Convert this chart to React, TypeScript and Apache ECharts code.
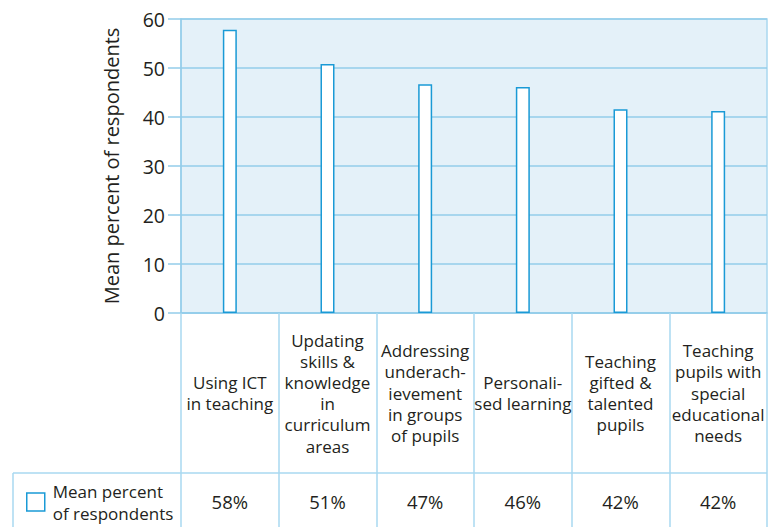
import React, { useEffect, useRef } from "react";
import * as echarts from "echarts";

const categories = [
  "Using ICT\nin teaching",
  "Updating\nskills &\nknowledge\nin\ncurriculum\nareas",
  "Addressing\nunderach-\nievement\nin groups\nof pupils",
  "Personali-\nsed learning",
  "Teaching\ngifted &\ntalented\npupils",
  "Teaching\npupils with\nspecial\neducational\nneeds",
];
const values = [57.8, 50.8, 46.7, 46.1, 41.6, 41.2];
const percentLabels = ["58%", "51%", "47%", "46%", "42%", "42%"];
const seriesName = "Mean percent of respondents";
const yTicks = { min: 0, max: 60, interval: 10 };

const FONT = "'Open Sans', 'Noto Sans', sans-serif";
const TEXT = "#231f20";
const GRIDLINE = "#93cdea";
const TABLE = "#a9d8f0";
const BG = "#e4f1f9";
const BAR = "#1a9ad6";

export default function App() {
  const ref = useRef<HTMLDivElement>(null);
  useEffect(() => {
    if (!ref.current) return;
    const chart = echarts.init(ref.current, undefined, { renderer: "svg" });
    const W = 776, H = 527;
    const gl = 181, gr = 9, gt = 19, gb = 214;
    const rowY = 473;
    chart.setOption({
      animation: false,
      textStyle: { fontFamily: FONT, color: TEXT },
      grid: {
        left: gl, right: gr, top: gt, bottom: gb,
        show: true, backgroundColor: BG, borderWidth: 1.5, borderColor: TABLE,
      },
      legend: {
        left: 26, top: 480,
        padding: 0,
        itemWidth: 18, itemHeight: 18,
        itemGap: 0,
        icon: "rect",
        data: [{ name: seriesName }],
        itemStyle: { color: "#fff", borderColor: BAR, borderWidth: 1.5 },
        formatter: () => "Mean percent\nof respondents",
        textStyle: { fontFamily: FONT, fontSize: 17, color: TEXT, lineHeight: 22, padding: [0, 0, 0, 3] },
      },
      xAxis: [
        {
          type: "category",
          data: categories,
          boundaryGap: true,
          axisLine: { show: true, lineStyle: { color: GRIDLINE, width: 1.5 } },
          axisTick: { show: true, length: gb, lineStyle: { color: TABLE, width: 1.5 } },
          axisLabel: {
            interval: 0, margin: 80, verticalAlign: "middle", align: "center",
            fontFamily: FONT, fontSize: 17, lineHeight: 21.2, color: TEXT,
          },
          splitLine: { show: false },
        },
        {
          type: "category",
          data: percentLabels,
          position: "bottom",
          axisLine: { show: false },
          axisTick: { show: false },
          axisLabel: {
            interval: 0, margin: 188, verticalAlign: "middle", align: "center",
            fontFamily: FONT, fontSize: 18.5, color: TEXT,
          },
        },
      ],
      yAxis: {
        type: "value",
        min: yTicks.min, max: yTicks.max, interval: yTicks.interval,
        name: seriesName,
        nameLocation: "middle",
        nameGap: 60,
        nameTextStyle: { fontFamily: FONT, fontSize: 20, color: TEXT },
        axisLine: { show: true, lineStyle: { color: GRIDLINE, width: 1.5 } },
        axisTick: { show: true, length: 13, lineStyle: { color: GRIDLINE, width: 1.5 } },
        axisLabel: { margin: 16, fontFamily: FONT, fontSize: 19.5, color: TEXT },
        splitLine: { show: true, lineStyle: { color: GRIDLINE, width: 1.5 } },
      },
      series: [
        {
          name: seriesName,
          type: "bar",
          data: values,
          barWidth: 14,
          itemStyle: { color: "#fff", borderColor: BAR, borderWidth: 1.5 },
        },
      ],
      graphic: [
        {
          type: "line",
          shape: { x1: 13, y1: rowY, x2: W - gr, y2: rowY },
          style: { stroke: TABLE, lineWidth: 1.5 },
        },
        {
          type: "line",
          shape: { x1: 13, y1: rowY, x2: 13, y2: H },
          style: { stroke: TABLE, lineWidth: 1.5 },
        },
      ],
    });
    return () => chart.dispose();
  }, []);
  return <div ref={ref} style={{ width: 776, height: 527, position: "absolute", left: 0, top: 0 }} />;
}
